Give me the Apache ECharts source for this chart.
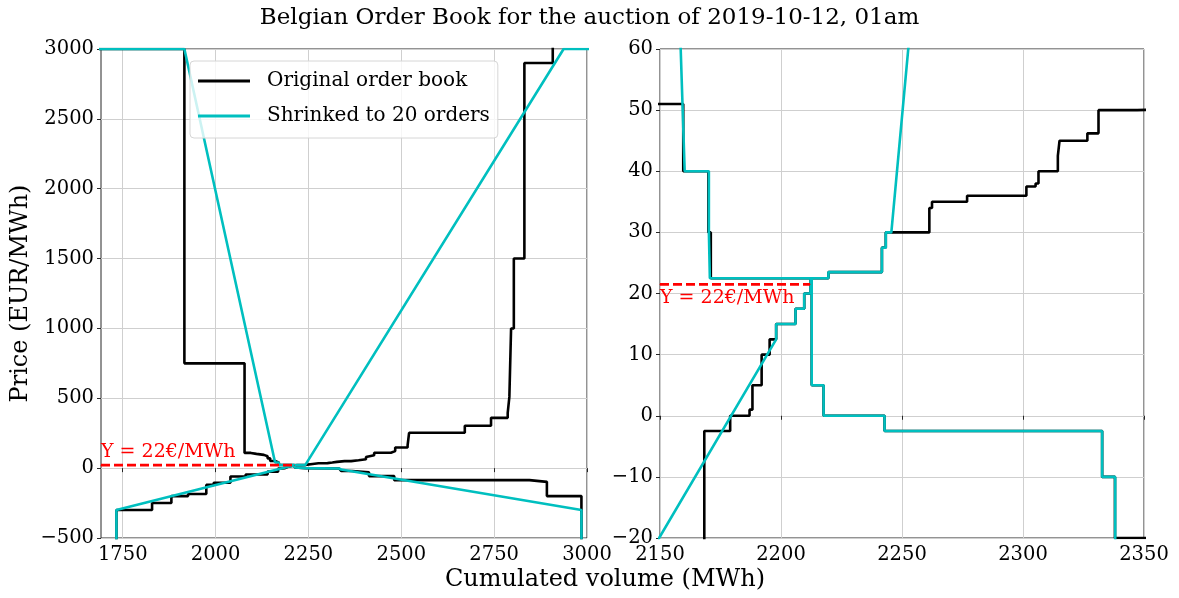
<!DOCTYPE html>
<html>
<head>
<meta charset="utf-8">
<script src="https://cdn.jsdelivr.net/npm/echarts@6/dist/echarts.min.js"></script>
<style>
  html, body { margin: 0; padding: 0; background: #fff; }
  #chart { width: 1179px; height: 598px; }
</style>
</head>
<body>
<div id="chart"></div>
<script>
// ---- Original order book (step curves: each point opens a horizontal run at its price) ----
const supplyVol = [1733, 1733, 1829, 1881, 1926, 1975, 1995, 2040, 2081, 2140, 2168.3, 2179, 2187, 2188.2,
  2192, 2195.3, 2198, 2206, 2209.6, 2212.2, 2219.6, 2241.7, 2243.3, 2261.3, 2262.4, 2276.9, 2301.4, 2305.2,
  2306.4, 2314.4, 2315.1, 2326.6, 2331.2, 2347.2, 2365, 2385, 2405, 2409, 2427, 2472, 2483.6, 2517, 2521,
  2671, 2741.6, 2786.5, 2791, 2795.6, 2803, 2831.4, 2907.8];
const supplyPrice = [-600, -300, -250, -200, -185, -120, -105, -60, -45, -25, -2.5, 0, 1, 5,
  10, 12.5, 15, 17.5, 20, 22.5, 23.5, 27.5, 30, 34, 35, 36, 37.5, 38,
  40, 42.5, 45, 46.2, 50, 50.2, 56, 64, 80, 93, 110, 122, 148, 164, 253,
  303, 360, 396, 510, 1000, 1500, 2900, 3100];

const demandVol = [1600, 1916, 2078, 2095, 2110, 2130, 2140, 2147, 2159.6, 2170, 2171, 2212.7, 2217.6,
  2242.8, 2332.7, 2338, 2368, 2413, 2481, 2845, 2892, 2985];
const demandPrice = [3000, 750, 109, 102, 95, 85, 70, 51, 40, 30, 22.5, 5, 0,
  -2.5, -10, -20, -30, -57, -86, -98, -200, -600];

// ---- Order book shrinked to 20 orders (piecewise linear curves) ----
const shrSupplyVol = [1733, 1733, 2198, 2198, 2206, 2206, 2209.6, 2209.6, 2212.2, 2212.2, 2219.6, 2219.6,
  2241.7, 2241.7, 2243.3, 2243.3, 2245.6, 2937, 3100];
const shrSupplyPrice = [-600, -300, 12.5, 15, 15, 17.5, 17.5, 20, 20, 22.5, 22.5, 23.5,
  23.5, 27.5, 27.5, 30, 30, 3000, 3000];

const shrDemandVol = [1600, 1916, 2160.2, 2170.2, 2170.2, 2170.6, 2170.6, 2212.7, 2212.7, 2217.6, 2217.6,
  2242.8, 2242.8, 2332.7, 2332.7, 2338.1, 2338.1, 2985, 2985];
const shrDemandPrice = [3000, 3000, 40, 40, 30, 30, 22.5, 22.5, 5, 5, 0,
  0, -2.5, -2.5, -10, -10, -22, -300, -600];

// ---- Clearing price marker ----
const clearingPrice = 21.5;
const clearingVol = 2212;
const clearingText = 'Y = 22€/MWh';

// ---- Axes ----
const leftXRange = [1691.5, 3000];
const leftXTicks = [1750, 2000, 2250, 2500, 2750, 3000];
const leftYRange = [-500, 3000];
const rightXRange = [2150, 2350];
const rightYRange = [-20, 60];

const titleText = 'Belgian Order Book for the auction of 2019-10-12, 01am';
const xName = 'Cumulated volume (MWh)';
const yName = 'Price (EUR/MWh)';
const nameOrig = 'Original order book';
const nameShr = 'Shrinked to 20 orders';

const FONT = '"DejaVu Serif", serif';
const BLACK = '#000000';
const CYAN = '#00bfbf';
const RED = '#ff0000';
const GRIDC = '#cfcfcf';
const SPINE = '#262626';

const pairs = (xs, ys) => xs.map((x, i) => [x, ys[i]]);
const minus = v => String(v).replace('-', '\u2212');

function xAxisDef(gi, range, interval, custom) {
  const ax = {
    type: 'value', gridIndex: gi, min: range[0], max: range[1],
    axisLine: { show: false },
    axisTick: { show: true, length: 4, lineStyle: { color: SPINE } },
    axisLabel: { fontFamily: FONT, fontSize: 19.5, color: '#000', margin: 7, formatter: minus, hideOverlap: false },
    splitLine: { show: true, lineStyle: { color: GRIDC, width: 1 } }
  };
  if (custom) {
    ax.axisTick.customValues = custom;
    ax.axisLabel.customValues = custom;
  } else {
    ax.interval = interval;
  }
  return ax;
}
function yAxisDef(gi, range, interval) {
  return {
    type: 'value', gridIndex: gi, min: range[0], max: range[1], interval: interval,
    axisLine: { show: false },
    axisTick: { show: true, length: 4, lineStyle: { color: SPINE } },
    axisLabel: { fontFamily: FONT, fontSize: 19.5, color: '#000', margin: 7, formatter: minus },
    splitLine: { show: true, lineStyle: { color: GRIDC, width: 1 } }
  };
}

function panelSeries(gi, xmin, labelPos, labelDist) {
  const common = { type: 'line', xAxisIndex: gi, yAxisIndex: gi, symbol: 'none', animation: false, clip: true };
  return [
    Object.assign({}, common, { name: nameOrig, step: 'end', data: pairs(supplyVol, supplyPrice),
      lineStyle: { color: BLACK, width: 2.6 }, itemStyle: { color: BLACK }, z: 2 }),
    Object.assign({}, common, { name: nameOrig, step: 'end', data: pairs(demandVol, demandPrice),
      lineStyle: { color: BLACK, width: 2.6 }, itemStyle: { color: BLACK }, z: 2 }),
    Object.assign({}, common, { name: nameShr, data: pairs(shrSupplyVol, shrSupplyPrice),
      lineStyle: { color: CYAN, width: 2.6 }, itemStyle: { color: CYAN }, z: 3 }),
    Object.assign({}, common, { name: nameShr, data: pairs(shrDemandVol, shrDemandPrice),
      lineStyle: { color: CYAN, width: 2.6 }, itemStyle: { color: CYAN }, z: 3 }),
    Object.assign({}, common, {
      name: 'clearing', z: 4,
      symbol: 'circle', symbolSize: 1, showSymbol: true,
      lineStyle: { color: RED, width: 2.6, type: [9, 4] }, itemStyle: { color: RED },
      data: [
        { value: [xmin, clearingPrice],
          label: { show: true, formatter: clearingText, position: labelPos, align: 'left',
                   distance: labelDist, color: RED, fontFamily: FONT, fontSize: 19 } },
        [clearingVol, clearingPrice]
      ]
    })
  ];
}

const chart = echarts.init(document.getElementById('chart'), null, { renderer: 'canvas' });
chart.setOption({
  animation: false,
  backgroundColor: '#ffffff',
  title: {
    text: titleText, left: 'center', top: 2,
    textStyle: { fontFamily: FONT, fontSize: 23, fontWeight: 'normal', color: '#000' }
  },
  legend: {
    data: [nameOrig, nameShr],
    orient: 'vertical', left: 190, top: 61,
    icon: 'rect', itemWidth: 52, itemHeight: 3, itemGap: 11,
    padding: [8, 8, 10, 8],
    backgroundColor: 'rgba(255,255,255,0.8)', borderColor: '#d6d6d6', borderWidth: 1, borderRadius: 4,
    textStyle: { fontFamily: FONT, fontSize: 20, color: '#000', lineHeight: 24, padding: [0, 0, 0, 12] },
    selectedMode: false
  },
  grid: [
    { left: 101, right: 592, top: 49, bottom: 60, show: true, borderColor: SPINE, borderWidth: 1, backgroundColor: 'transparent' },
    { left: 660, right: 35, top: 49, bottom: 60, show: true, borderColor: SPINE, borderWidth: 1, backgroundColor: 'transparent' }
  ],
  xAxis: [
    xAxisDef(0, leftXRange, null, leftXTicks),
    xAxisDef(1, rightXRange, 50, null)
  ],
  yAxis: [
    Object.assign(yAxisDef(0, leftYRange, 500), {
      name: yName, nameLocation: 'middle', nameGap: 68, nameRotate: 90,
      nameTextStyle: { fontFamily: FONT, fontSize: 24, color: '#000' }
    }),
    yAxisDef(1, rightYRange, 10)
  ],
  graphic: [{
    type: 'text', x: 605, y: 580,
    style: { text: xName, fill: '#000', font: '24px ' + FONT, textAlign: 'center', textVerticalAlign: 'middle' }
  }],
  series: [].concat(panelSeries(0, leftXRange[0], 'top', 3), panelSeries(1, rightXRange[0], 'bottom', 4))
});
</script>
</body>
</html>
